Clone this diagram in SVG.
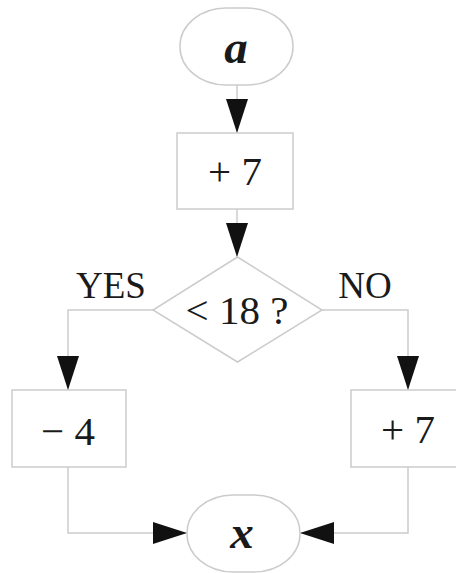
<svg xmlns="http://www.w3.org/2000/svg" width="456" height="573" viewBox="0 0 456 573">
<style>
.shape{fill:#fff;stroke:#cccccc;stroke-width:1.5}
.conn{fill:none;stroke:#cccccc;stroke-width:1.5}
.lbl{font-family:"Liberation Serif","Times New Roman",serif;fill:#1a1a1a;text-anchor:middle}
.num{font-size:41px}
.var{font-size:47px;font-weight:bold;font-style:italic}
.side{font-size:37px}
</style>
<defs>
<marker id="arr" markerUnits="userSpaceOnUse" markerWidth="34" markerHeight="22" refX="34" refY="11" orient="auto">
<path d="M0,0 L34,11 L0,22 z" fill="#111"/>
</marker>
</defs>
<rect width="456" height="573" fill="#fff"/>
<g id="connectors">
<path class="conn" d="M237,85 V133" marker-end="url(#arr)"/>
<path class="conn" d="M237,209 V257" marker-end="url(#arr)"/>
<path class="conn" d="M153,310 H68 V390" marker-end="url(#arr)"/>
<path class="conn" d="M322,310 H408 V390" marker-end="url(#arr)"/>
<path class="conn" d="M68,467 V533 H187" marker-end="url(#arr)"/>
<path class="conn" d="M408,467 V533 H300" marker-end="url(#arr)"/>
</g>
<g id="start">
<rect class="shape" x="180" y="8" width="113" height="77" rx="46" ry="38"/>
<text class="lbl var" x="236" y="63">a</text>
</g>
<g id="add7">
<rect class="shape" x="177" y="133" width="116" height="76"/>
<text class="lbl num" x="235" y="185">+ 7</text>
</g>
<g id="decision">
<polygon class="shape" points="237.5,257 322,310 237.5,362 153,310"/>
<text class="lbl num" x="237" y="324">&lt; 18 ?</text>
</g>
<g id="labels">
<text class="lbl side" x="111" y="298">YES</text>
<text class="lbl side" x="365" y="298">NO</text>
</g>
<g id="sub4">
<rect class="shape" x="12" y="390" width="114" height="77"/>
<text class="lbl num" x="68" y="445">− 4</text>
</g>
<g id="add7b">
<rect class="shape" x="351" y="390" width="114" height="77"/>
<text class="lbl num" x="408" y="443">+ 7</text>
</g>
<g id="end">
<rect class="shape" x="187" y="495" width="113" height="77" rx="46" ry="38"/>
<text class="lbl var" x="242" y="548">x</text>
</g>
</svg>
